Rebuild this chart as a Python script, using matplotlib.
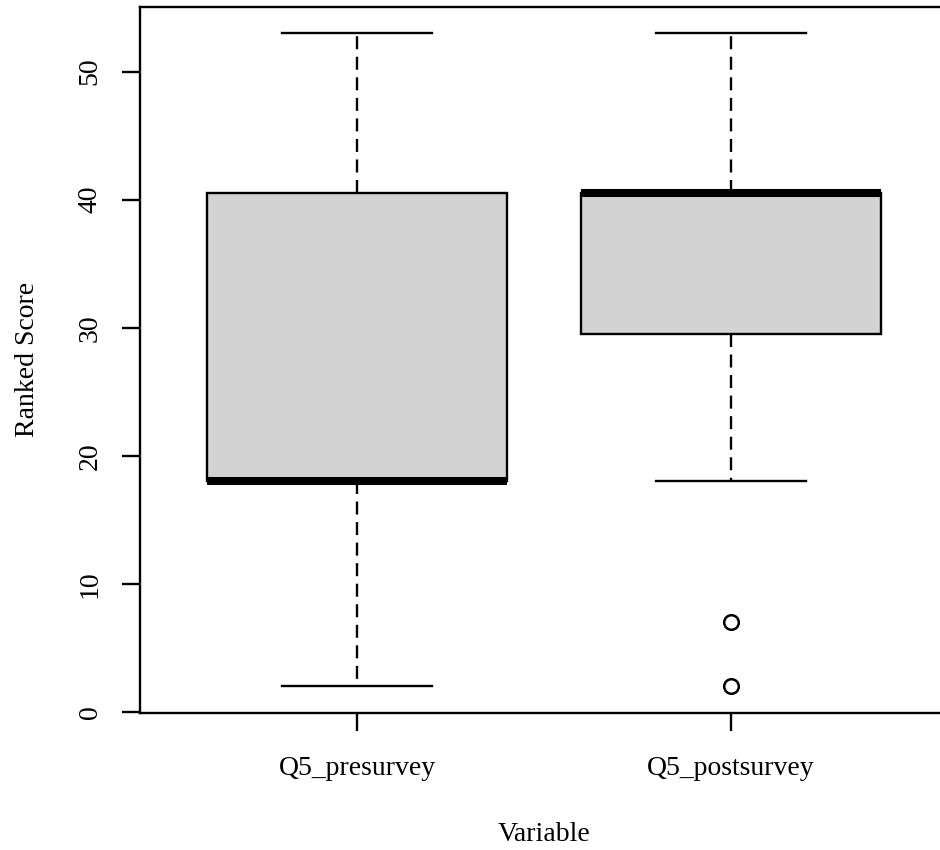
import matplotlib
matplotlib.use("Agg")
import matplotlib.pyplot as plt

plt.rcParams["font.family"] = ["Liberation Serif", "DejaVu Serif"]

# summary stats
GROUPS      = ["Q5_presurvey", "Q5_postsurvey"]
WHISK_LO    = [2, 18]
Q1          = [18, 29.5]
MEDIAN      = [18, 40.5]
Q3          = [40.5, 40.5]
WHISK_HI    = [53, 53]
OUTLIERS    = [[], [7, 2]]

stats = []
for i, name in enumerate(GROUPS):
    stats.append({
        "label": name,
        "whislo": WHISK_LO[i],
        "q1": Q1[i],
        "med": MEDIAN[i],
        "q3": Q3[i],
        "whishi": WHISK_HI[i],
        "fliers": OUTLIERS[i],
    })

fig = plt.figure(figsize=(9.4, 8.5), dpi=100)
ax = fig.add_axes([140 / 940, 137.5 / 850, 808 / 940, 705.5 / 850])

lw = 1.7
ax.bxp(
    stats,
    positions=[1, 2],
    widths=0.8,
    patch_artist=True,
    boxprops=dict(facecolor="#d3d3d3", edgecolor="black", linewidth=lw),
    medianprops=dict(color="black", linewidth=5.8),
    whiskerprops=dict(color="black", linewidth=lw, linestyle=(0, (5.5, 3.2))),
    capprops=dict(color="black", linewidth=lw),
    capwidths=0.4,
    flierprops=dict(marker="o", markerfacecolor="none", markeredgecolor="black",
                    markersize=10.5, markeredgewidth=1.8, linestyle="none"),
)

ax.set_xlim(0.42, 2.58)
ax.set_ylim(-0.04, 55.04)
ax.set_yticks([0, 10, 20, 30, 40, 50])
ax.set_xticks([1, 2])
ax.set_xticklabels(GROUPS)

for s in ax.spines.values():
    s.set_linewidth(lw)

ax.tick_params(axis="both", length=13, width=lw, labelsize=20)
ax.tick_params(axis="x", pad=18)
ax.tick_params(axis="y", pad=14)
for t in ax.get_yticklabels():
    t.set_rotation(90)
    t.set_va("center")

ax.set_xlabel("Variable", fontsize=20, labelpad=30)
ax.set_ylabel("Ranked Score", fontsize=20, labelpad=27)

fig.savefig("out.png", dpi=100)
